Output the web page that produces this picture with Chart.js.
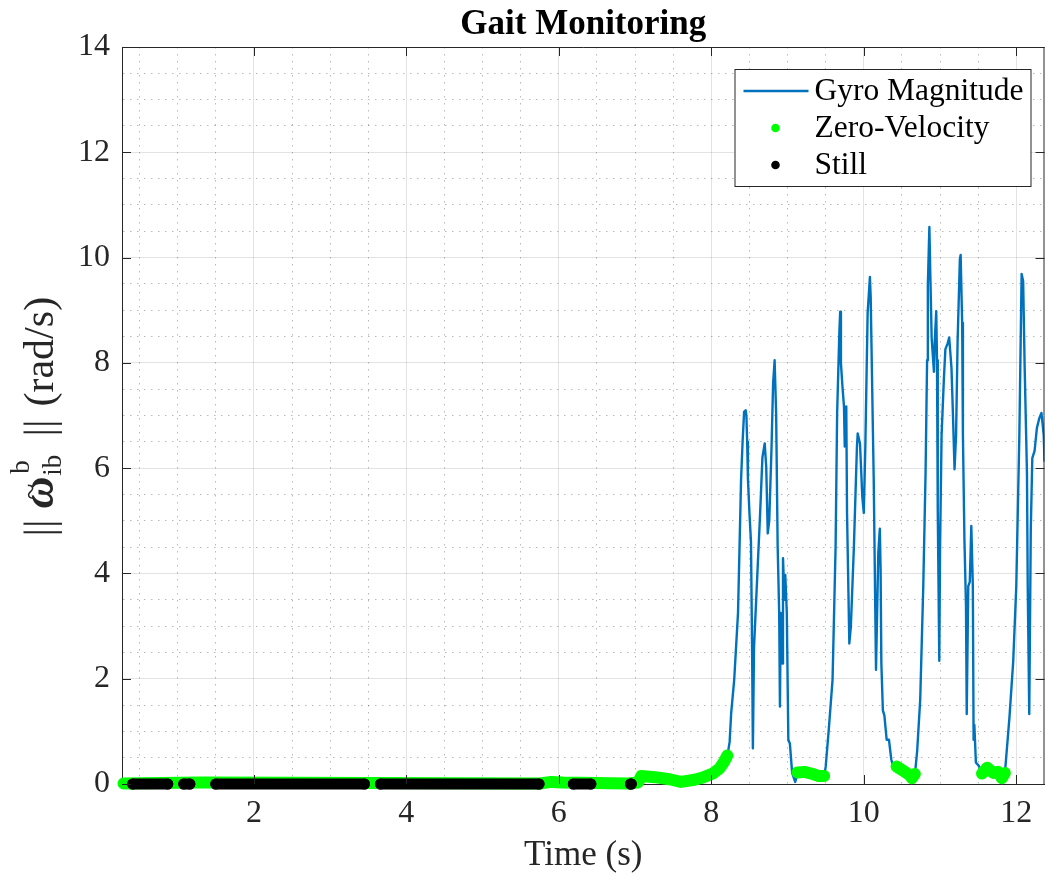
<!DOCTYPE html>
<html><head><meta charset="utf-8">
<script src="https://cdn.jsdelivr.net/npm/chart.js@4.4.1/dist/chart.umd.min.js"></script>
<style>html,body{margin:0;padding:0;background:#fff;}#wrap{width:1050px;height:882px;position:relative;}</style>
</head><body><div id="wrap"><canvas id="c" width="1050" height="882"></canvas></div>
<script>
// ---------- data ----------
const gyroTime = [0.27,3.0,6.95,7.03,7.06,7.26,7.45,7.6,7.78,7.9,8.02,8.11,8.17,8.21,8.24,8.26,8.30,8.35,8.37,8.39,8.41,8.43,8.45,8.46,8.47,8.48,8.50,8.52,8.535,8.545,8.56,8.61,8.64,8.67,8.70,8.72,8.74,8.76,8.79,8.81,8.83,8.85,8.87,8.89,8.90,8.91,8.93,8.94,8.96,8.97,8.99,9.01,9.03,9.06,9.10,9.13,9.22,9.33,9.41,9.48,9.50,9.54,9.59,9.61,9.63,9.65,9.68,9.69,9.70,9.72,9.74,9.75,9.77,9.78,9.81,9.83,9.87,9.91,9.92,9.95,9.98,10.00,10.02,10.05,10.08,10.09,10.13,10.16,10.19,10.21,10.22,10.23,10.25,10.27,10.30,10.33,10.36,10.39,10.44,10.52,10.61,10.63,10.67,10.70,10.74,10.78,10.81,10.83,10.84,10.86,10.87,10.89,10.92,10.93,10.95,10.96,10.97,10.99,11.00,11.02,11.05,11.07,11.10,11.12,11.15,11.17,11.19,11.21,11.23,11.26,11.27,11.29,11.30,11.32,11.34,11.35,11.37,11.39,11.41,11.43,11.44,11.45,11.47,11.51,11.55,11.61,11.70,11.76,11.81,11.85,11.87,11.91,11.96,12.00,12.04,12.07,12.09,12.11,12.14,12.15,12.17,12.19,12.21,12.24,12.27,12.30,12.33,12.36,12.37];
const gyroMag  = [0.01,0.01,0.01,0.02,0.14,0.12,0.08,0.04,0.07,0.12,0.19,0.29,0.42,0.53,0.80,1.34,1.98,3.25,4.51,5.78,6.5,7.07,7.1,7.0,6.5,5.8,5.15,4.6,2.5,0.68,2.6,4.19,5.14,6.2,6.47,6.03,4.76,5.01,6.41,7.6,8.05,7.04,4.51,3.25,1.47,3.25,2.29,4.29,3.50,3.97,3.25,0.84,0.77,0.21,0.04,0.2,0.22,0.18,0.13,0.14,0.33,1.03,1.98,3.25,4.51,7.04,8.62,8.97,7.99,7.55,7.17,6.41,7.17,5.15,2.67,2.99,4.51,6.41,6.66,6.47,5.46,5.15,6.41,8.94,9.63,9.26,5.78,2.17,4.39,4.85,4.1,2.3,1.4,1.3,0.84,0.84,0.47,0.3,0.32,0.24,0.16,0.1,0.18,0.63,1.61,3.76,5.91,8.05,9.48,10.58,9.84,8.47,7.83,8.40,8.98,8.05,5.19,2.34,4.48,6.62,7.69,8.26,8.37,8.48,7.90,6.98,5.98,6.62,8.40,9.97,10.05,8.76,6.62,4.62,3.41,1.33,3.76,3.84,4.90,3.76,0.84,1.12,0.41,0.34,0.2,0.28,0.2,0.22,0.1,0.2,0.55,1.26,2.34,3.76,6.62,9.69,9.55,7.90,5.91,3.76,1.33,4.83,6.19,6.33,6.76,6.94,7.05,6.62,6.12];
// zero-velocity detections (null = gap between detected intervals)
const zvTime = [0.29,1.30,5.75,5.90,6.05,6.90,7.04,7.08,7.26,7.45,7.60,7.78,7.90,8.02,8.11,8.17,8.21,null,9.13,9.22,9.33,9.41,9.48,null,10.43,10.52,10.61,10.63,10.67,null,11.55,11.62,11.70,11.76,11.81,11.85];
const zvMag  = [0.01,0.03,0.01,0.04,0.03,0.01,0.03,0.15,0.13,0.09,0.04,0.08,0.13,0.20,0.30,0.43,0.54,null,0.22,0.23,0.19,0.15,0.15,null,0.33,0.25,0.16,0.11,0.19,null,0.20,0.31,0.21,0.23,0.11,0.21];
// still intervals (start / end time, magnitude ~0)
const stillStart = [0.41,1.08,1.50,3.66,6.19,6.94];
const stillEnd   = [0.87,1.16,3.45,5.74,6.42,6.95];
const xMajorTicks = [2,4,6,8,10,12];
const yMajorTicks = [0,2,4,6,8,10,12,14];

// ---------- build datasets ----------
const gyroData = gyroTime.map((t,i)=>({x:t,y:gyroMag[i]}));
const zvData = zvTime.map((t,i)=>({x:(t===null? zvTime[i-1] : t), y:zvMag[i]}));
const stillData = [];
stillStart.forEach((s,i)=>{ stillData.push({x:s,y:0},{x:stillEnd[i],y:0},{x:stillEnd[i],y:null}); });

const AX = '#262626';
const SERIF = '"Liberation Serif","Times New Roman",serif';
const isMajor = v => Math.abs(v/2 - Math.round(v/2)) < 1e-6;

const frame = {
  id:'frame',
  afterDatasetsDraw(chart){
    const {ctx, chartArea:a, scales:{x,y}} = chart;
    ctx.save();
    ctx.strokeStyle = AX; ctx.lineWidth = 1;
    ctx.beginPath();
    ctx.moveTo(a.left, a.top+0.5); ctx.lineTo(a.right, a.top+0.5);
    ctx.moveTo(a.right-0.5, a.top); ctx.lineTo(a.right-0.5, a.bottom);
    const L = 9;
    xMajorTicks.forEach(v=>{ const px = Math.round(x.getPixelForValue(v))+0.5;
      ctx.moveTo(px, a.bottom); ctx.lineTo(px, a.bottom-L);
      ctx.moveTo(px, a.top); ctx.lineTo(px, a.top+L); });
    yMajorTicks.forEach(v=>{ const py = Math.round(y.getPixelForValue(v))+0.5;
      ctx.moveTo(a.left, py); ctx.lineTo(a.left+L, py);
      ctx.moveTo(a.right, py); ctx.lineTo(a.right-L, py); });
    ctx.stroke();
    ctx.restore();
  }
};

const boxLegend = {
  id:'boxLegend',
  afterDraw(chart){
    const {ctx, chartArea:a} = chart;
    const w = 296, h = 117;
    const x0 = a.right - 14 - w, y0 = a.top + 22;
    ctx.save();
    ctx.fillStyle = '#fff'; ctx.fillRect(x0, y0, w, h);
    ctx.strokeStyle = AX; ctx.lineWidth = 1; ctx.strokeRect(x0+0.5, y0+0.5, w, h);
    ctx.font = '31.5px ' + SERIF; ctx.textBaseline = 'middle'; ctx.textAlign = 'left'; ctx.fillStyle = '#000';
    const ds = chart.data.datasets;
    const rowY = [y0+22, y0+59, y0+96];
    ds.forEach((d,i)=>{
      const yy = rowY[i];
      if (d.legendKind === 'line') {
        ctx.strokeStyle = d.borderColor; ctx.lineWidth = 2.4;
        ctx.beginPath(); ctx.moveTo(x0+9, yy); ctx.lineTo(x0+74, yy); ctx.stroke();
      } else {
        ctx.fillStyle = d.borderColor; ctx.beginPath(); ctx.arc(x0+41, yy, 4.3, 0, Math.PI*2); ctx.fill();
      }
      ctx.fillStyle = '#000';
      ctx.fillText(d.label, x0+80, yy+1);
    });
    ctx.restore();
  }
};

const yLabel = {
  id:'yLabel',
  afterDraw(chart){
    const {ctx, chartArea:a} = chart;
    const cy = (a.top + a.bottom)/2;
    ctx.save();
    ctx.translate(53, cy); ctx.rotate(-Math.PI/2);
    ctx.fillStyle = AX; ctx.textBaseline = 'alphabetic'; ctx.textAlign = 'left';
    const X0 = -121;
    ctx.font = '42px ' + SERIF;
    ctx.fillText('||', X0, 0);
    ctx.font = 'italic bold 44px ' + SERIF;
    ctx.fillText('\u03C9', X0+28, 0);
    const ww = ctx.measureText('\u03C9').width;
    ctx.font = '30px ' + SERIF; ctx.textAlign = 'center'; ctx.textBaseline='middle';
    ctx.fillText('~', X0+28+ww/2+1, -20);
    ctx.textAlign = 'left'; ctx.textBaseline = 'alphabetic';
    ctx.font = '27px ' + SERIF;
    ctx.fillText('b', X0+28+ww+3, -24);
    ctx.fillText('ib', X0+28+ww+1, 8);
    ctx.font = '42px ' + SERIF;
    ctx.fillText('||', X0+100, 0);
    ctx.fillText('(rad/s)', X0+130, 0);
    ctx.restore();
  }
};

const gridColor = ctx => (ctx.tick && !isMajor(ctx.tick.value)) ? 'rgba(38,38,38,0.32)' : 'rgba(38,38,38,0.13)';
const gridDash = ctx => (ctx.tick && !isMajor(ctx.tick.value)) ? [1.5,5.5] : [];

new Chart(document.getElementById('c'), {
  type:'scatter',
  data:{ datasets:[
    {label:'Gyro Magnitude', legendKind:'line', data:gyroData, showLine:true, borderColor:'#0072BD', backgroundColor:'#0072BD', borderWidth:2.4, borderJoinStyle:'round', pointRadius:0, order:3, tension:0},
    {label:'Zero-Velocity', legendKind:'dot', data:zvData, showLine:true, borderColor:'#00FF00', backgroundColor:'#00FF00', borderWidth:12, borderCapStyle:'round', borderJoinStyle:'round', pointRadius:0, order:2, spanGaps:false, clip:10},
    {label:'Still', legendKind:'dot', data:stillData, showLine:true, borderColor:'#000000', backgroundColor:'#000000', borderWidth:11, borderCapStyle:'round', borderJoinStyle:'round', pointRadius:5.5, pointBorderWidth:0, pointBackgroundColor:'#000', order:1, spanGaps:false, clip:10}
  ]},
  options:{
    responsive:false, animation:false, devicePixelRatio:1,
    layout:{padding:{left:0,right:2,top:0,bottom:0}},
    plugins:{
      legend:{display:false}, tooltip:{enabled:false},
      title:{display:true, text:'Gait Monitoring', fullSize:false, color:'#000', font:{family:SERIF, size:35, weight:'bold'}, padding:{top:4,bottom:1}}
    },
    scales:{
      x:{type:'linear', min:0.27, max:12.37,
        afterFit:s=>{ s.height = 98; },
        ticks:{stepSize:0.5, includeBounds:false, autoSkip:false, maxRotation:0, padding:10, color:AX, font:{family:SERIF, size:32},
          callback:v=> isMajor(v) ? String(Math.round(v)) : ''},
        grid:{color:gridColor, lineWidth:1, drawTicks:false},
        border:{display:true, color:AX, width:1, dash:gridDash},
        title:{display:true, text:'Time (s)', color:AX, font:{family:SERIF, size:35}, padding:{top:0,bottom:5}}
      },
      y:{type:'linear', min:0, max:14,
        afterFit:s=>{ s.width = 122; },
        ticks:{stepSize:0.5, autoSkip:false, padding:12, color:AX, font:{family:SERIF, size:32},
          callback:v=> isMajor(v) ? String(Math.round(v)) : ''},
        grid:{color:gridColor, lineWidth:1, drawTicks:false},
        border:{display:true, color:AX, width:1, dash:gridDash},
        title:{display:false}
      }
    }
  },
  plugins:[frame, yLabel, boxLegend]
});
</script></body></html>
